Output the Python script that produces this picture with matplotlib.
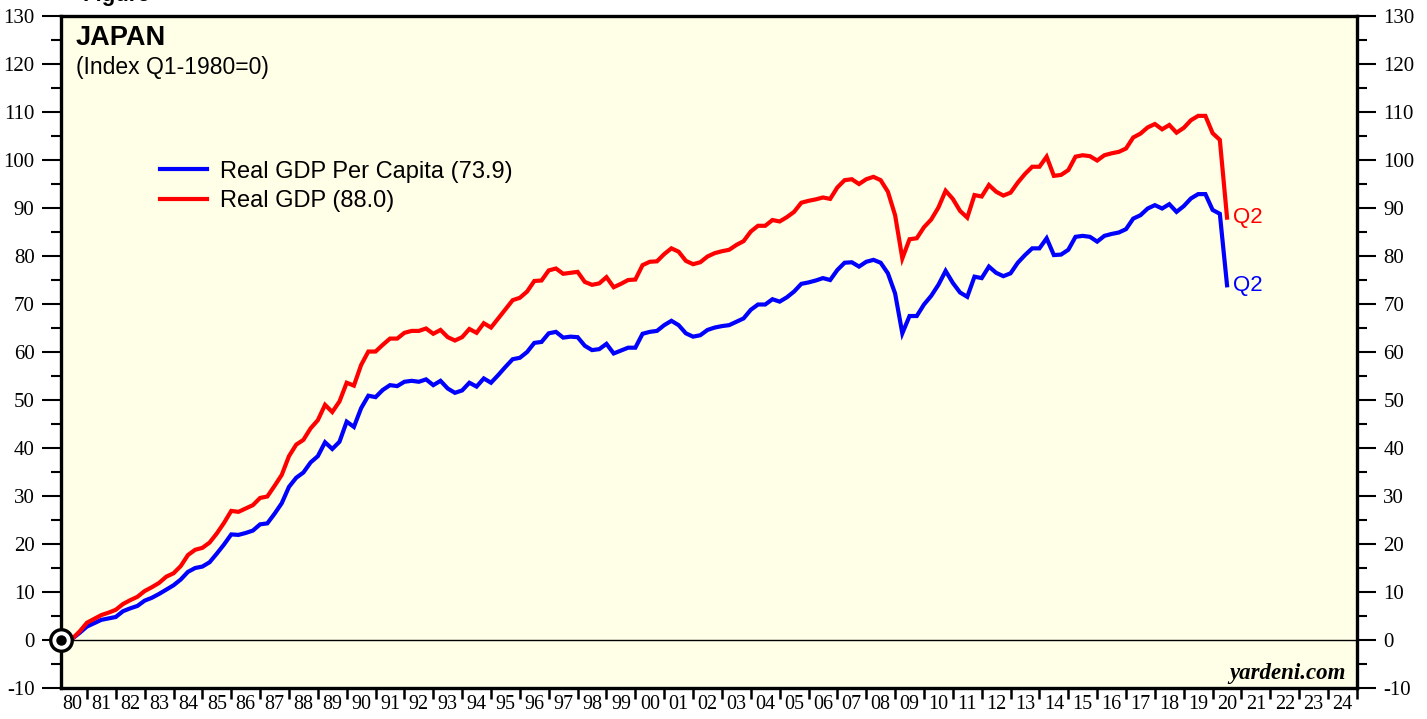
import numpy as np
import matplotlib
matplotlib.use("Agg")
import matplotlib.pyplot as plt

# Japan, index Q1-1980 = 0, quarterly from 1980 Q1 to 2020 Q2
start_year = 1980
real_gdp = [
    0.0, 0.3, 1.8, 3.6, 4.4, 5.2, 5.7, 6.3, 7.5, 8.3, 9.0, 10.2,
    11.0, 11.9, 13.2, 13.9, 15.4, 17.7, 18.8, 19.2, 20.3, 22.2, 24.4, 26.9,
    26.7, 27.4, 28.1, 29.6, 29.9, 32.1, 34.4, 38.3, 40.7, 41.7, 44.1, 45.8,
    49.0, 47.5, 49.7, 53.6, 53.0, 57.3, 60.1, 60.1, 61.5, 62.8, 62.8, 64.0,
    64.4, 64.4, 64.9, 63.8, 64.6, 63.1, 62.4, 63.1, 64.8, 64.0, 66.0, 65.1,
    67.0, 68.9, 70.8, 71.3, 72.6, 74.8, 74.9, 77.0, 77.4, 76.3, 76.5, 76.7,
    74.6, 74.0, 74.3, 75.6, 73.5, 74.2, 75.0, 75.1, 78.1, 78.8, 78.9, 80.4,
    81.6, 80.9, 79.0, 78.3, 78.7, 79.9, 80.6, 81.0, 81.3, 82.3, 83.1, 85.1,
    86.3, 86.3, 87.5, 87.2, 88.1, 89.2, 91.1, 91.5, 91.8, 92.2, 91.9, 94.3,
    95.8, 96.0, 95.0, 96.0, 96.5, 95.8, 93.4, 88.5, 79.5, 83.5, 83.7, 86.0,
    87.6, 90.1, 93.6, 91.9, 89.4, 88.0, 92.7, 92.4, 94.8, 93.4, 92.6, 93.2,
    95.3, 97.1, 98.6, 98.6, 100.7, 96.7, 96.9, 97.9, 100.7, 101.0, 100.8, 99.9,
    101.0, 101.4, 101.7, 102.4, 104.7, 105.5, 106.8, 107.5, 106.4, 107.3, 105.7, 106.7,
    108.3, 109.2, 109.2, 105.6, 104.2, 88.0,
]
gdp_per_capita = [
    0.0, 0.3, 1.5, 2.8, 3.5, 4.2, 4.5, 4.8, 6.0, 6.6, 7.1, 8.2,
    8.8, 9.6, 10.5, 11.4, 12.6, 14.2, 15.0, 15.3, 16.2, 18.0, 19.9, 22.0,
    21.9, 22.3, 22.8, 24.1, 24.3, 26.3, 28.5, 31.9, 33.8, 34.9, 37.0, 38.3,
    41.2, 39.8, 41.3, 45.5, 44.4, 48.3, 50.9, 50.6, 52.1, 53.1, 52.9, 53.8,
    54.0, 53.8, 54.3, 53.1, 54.0, 52.4, 51.5, 52.0, 53.6, 52.8, 54.5, 53.6,
    55.2, 56.9, 58.5, 58.8, 60.0, 61.9, 62.1, 63.9, 64.2, 63.0, 63.2, 63.1,
    61.3, 60.4, 60.6, 61.7, 59.7, 60.3, 60.9, 60.9, 63.8, 64.2, 64.4, 65.6,
    66.5, 65.6, 63.9, 63.2, 63.5, 64.6, 65.1, 65.4, 65.6, 66.3, 67.0, 68.8,
    69.9, 69.9, 71.0, 70.5, 71.4, 72.6, 74.2, 74.5, 74.9, 75.4, 75.0, 77.1,
    78.6, 78.7, 77.8, 78.8, 79.2, 78.6, 76.4, 72.2, 63.9, 67.5, 67.5, 69.9,
    71.7, 74.0, 76.9, 74.4, 72.4, 71.5, 75.7, 75.4, 77.8, 76.5, 75.8, 76.4,
    78.6, 80.2, 81.6, 81.6, 83.7, 80.2, 80.3, 81.3, 84.0, 84.2, 84.0, 83.0,
    84.2, 84.6, 84.9, 85.6, 87.8, 88.5, 89.9, 90.6, 89.9, 90.8, 89.2, 90.4,
    92.0, 92.9, 92.9, 89.6, 88.8, 73.9,
]
year_labels = [f"{y % 100:02d}" for y in range(1980, 2025)]

# quarters plotted at quarter end
t = start_year + np.arange(1, len(real_gdp) + 1) / 4

plt.rcParams["font.family"] = ["Liberation Serif", "DejaVu Serif"]
plt.rcParams["axes.unicode_minus"] = False

fig = plt.figure(figsize=(14.27, 7.19), dpi=100)
ax = fig.add_axes([0.0427, 0.0431, 0.9082, 0.9346])
ax.set_facecolor("#fffee6")

ax.axhline(0, color="black", lw=1.0, zorder=1)
ax.plot(t, gdp_per_capita, color="#0000ff", lw=3.0, solid_joinstyle="miter",
        label=f"Real GDP Per Capita ({gdp_per_capita[-1]:.1f})", zorder=3)
ax.plot(t, real_gdp, color="#ff0000", lw=3.0, solid_joinstyle="miter",
        label=f"Real GDP ({real_gdp[-1]:.1f})", zorder=3)

ax.set_xlim(1980.1, 2025)
ax.set_ylim(-10, 130)

# base marker at the origin
x0 = ax.get_xlim()[0]
ax.plot([x0], [0], marker="o", ms=15.5, mfc="white", mec="black", mew=2.4,
        clip_on=False, zorder=5)
ax.plot([x0], [0], marker="o", ms=6.5, mfc="black", mec="black",
        clip_on=False, zorder=6)

# end labels
ax.annotate("Q2", (t[-1], real_gdp[-1]), xytext=(4, 0), textcoords="offset points",
            color="#ff0000", fontsize=16, va="center", family="Liberation Sans")
ax.annotate("Q2", (t[-1], gdp_per_capita[-1]), xytext=(4, 0), textcoords="offset points",
            color="#0000ff", fontsize=16, va="center", family="Liberation Sans")

# x axis: ticks at year boundaries, labels mid-year
ax.set_xticks(np.arange(1981, 2026))
ax.set_xticklabels([])
ax.set_xticks(np.arange(1980, 2025) + 0.5, minor=True)
ax.set_xticklabels(year_labels, minor=True, fontsize=14.5)
ax.tick_params(axis="x", which="major", direction="out", length=8, width=1.8)
ax.tick_params(axis="x", which="minor", length=0, pad=5)

# y axis both sides
ax.set_yticks(np.arange(-10, 131, 10))
ax.set_yticks(np.arange(-5, 130, 10), minor=True)
ax.tick_params(axis="y", which="major", direction="out", length=14, width=1.5,
               left=True, right=True, labelleft=True, labelright=True,
               labelsize=15, pad=5)
ax.tick_params(axis="y", which="minor", direction="out", length=7, width=1.5,
               left=True, right=True)

for s in ax.spines.values():
    s.set_linewidth(2.4)

ax.text(0.0116, 0.957, "JAPAN", transform=ax.transAxes, fontsize=19.5,
        fontweight="bold", va="baseline", family="Liberation Sans")
ax.text(0.0116, 0.9137, "(Index Q1-1980=0)", transform=ax.transAxes, fontsize=16.5,
        va="baseline", family="Liberation Sans")

ax.legend(loc="upper left", bbox_to_anchor=(0.0764, 0.785), frameon=False,
          prop={"family": "Liberation Sans", "size": 17}, handlelength=2.0,
          handletextpad=0.55, labelspacing=0.32, borderaxespad=0, borderpad=0)

ax.text(0.991, 0.013, "yardeni.com", transform=ax.transAxes, fontsize=16.5,
        fontweight="bold", fontstyle="italic", ha="right", va="baseline")

fig.text(0.0575, 0.999, "Figure", fontsize=16, fontweight="bold",
         family="Liberation Sans", va="baseline")

fig.savefig("out.png", dpi=100)
